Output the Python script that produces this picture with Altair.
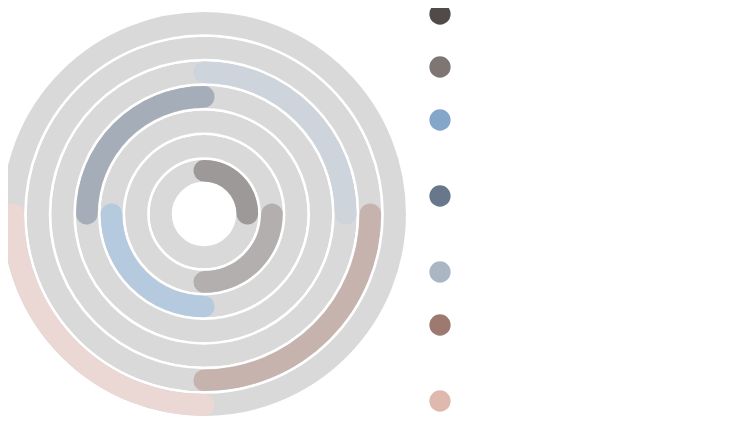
import math
import altair as alt
import pandas as pd

# ---- data ----
rings = [1, 2, 3, 4, 5, 6, 7]
start_pct = [0, 25, 50, 75, 0, 25, 50]
end_pct = [25, 50, 75, 100, 25, 50, 75]
arc_colors = ["#9c9998", "#b3afae", "#b5cadf", "#a5adb9", "#cdd4db", "#c7b3ae", "#ebd7d3"]
legend_colors = ["#524a4a", "#7f7673", "#84a6c8", "#687789", "#aab6c3", "#9c7a70", "#dfb8ae"]
legend_lines = [2, 2, 3, 3, 2, 3, 2]

# ---- styling constants ----
R_HOLE, R_OUT = 31, 203.2
STEP = (R_OUT - R_HOLE) / 7
CAP = 10.5
INSET = 1.5 / STEP

df = pd.DataFrame({
    "ring": rings,
    "start": start_pct,
    "end": end_pct,
    "arc_color": arc_colors,
    "legend_color": legend_colors,
    "lines": legend_lines,
})
df["inner"] = df["ring"] - 1
df["cum"] = df["lines"].cumsum() - df["lines"]
df["idx"] = range(len(df))

rscale = alt.Scale(type="linear", domain=[0, 7], range=[R_HOLE, R_OUT])
tscale = alt.Scale(type="linear", domain=[0, 100], range=[0, 2 * math.pi])

base = alt.Chart(df)

track = base.mark_arc(fill="#d9d9d9", stroke="white", strokeWidth=2.5).encode(
    theta=alt.value(0),
    theta2=alt.value(2 * math.pi),
    radius=alt.Radius("ring:Q", scale=rscale),
    radius2="inner:Q",
)

arcs = (
    base.transform_calculate(
        ext=f"{CAP} / ({R_HOLE} + {STEP} * (datum.ring - 0.5)) / (2 * PI) * 100",
        ro=f"datum.ring - {INSET}",
        ri=f"datum.ring - 1 + {INSET}",
    )
    .transform_calculate(t0="datum.start - datum.ext", t1="datum.end + datum.ext")
    .mark_arc(cornerRadius=CAP)
    .encode(
        theta=alt.Theta("t0:Q", scale=tscale),
        theta2="t1:Q",
        radius=alt.Radius("ro:Q", scale=rscale),
        radius2="ri:Q",
        color=alt.Color("arc_color:N", scale=None),
    )
)

legend = (
    base.transform_calculate(ly="6 + 23 * datum.cum + 7 * datum.idx")
    .mark_circle(size=452, opacity=1)
    .encode(
        x=alt.value(432),
        y=alt.Y("ly:Q", scale=None, axis=None),
        color=alt.Color("legend_color:N", scale=None),
    )
)

chart = (
    alt.layer(track, arcs, legend)
    .properties(
        width=392,
        height=412,
        padding={"left": 0, "top": 0, "right": 346, "bottom": 14},
        autosize="none",
    )
    .configure_view(stroke=None)
)

chart.save("out.html", embed_options={"renderer": "svg", "actions": False})
